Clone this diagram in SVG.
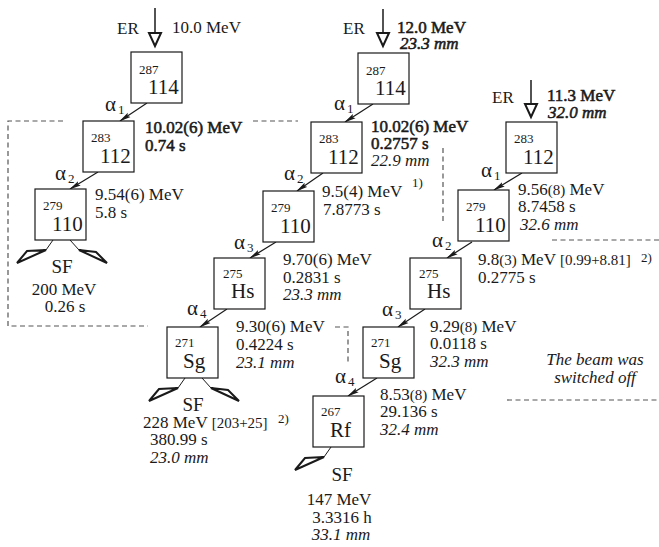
<svg xmlns="http://www.w3.org/2000/svg" width="659" height="547" viewBox="0 0 659 547" font-family="Liberation Serif, serif">
<style>
text{fill:#1a1a1a;font-size:17px}
.i{font-style:italic}
.b{stroke:#1a1a1a;stroke-width:0.55}
.m{font-size:13px}
.z{font-size:21px}
.a{font-size:21px}
.s{font-size:13px}
.sm{font-size:15px}
.sf{font-size:19px}
.sup{font-size:13px}
.box{fill:#fff;stroke:#1a1a1a;stroke-width:1.2}
.arr{fill:none;stroke:#1a1a1a;stroke-width:1.2}
.er{fill:none;stroke:#1a1a1a;stroke-width:1.5}
.tri{fill:#fff;stroke:#1a1a1a;stroke-width:2;stroke-linejoin:miter}
.frag{fill:#fff;stroke:#1a1a1a;stroke-width:2;stroke-linejoin:miter}
.fl{fill:none;stroke:#1a1a1a;stroke-width:1}
.dash{fill:none;stroke:#555;stroke-width:1.2;stroke-dasharray:5 3.5}
</style>
<defs>
<marker id="ah" viewBox="0 0 12 6" refX="11" refY="3" markerWidth="12" markerHeight="6" markerUnits="userSpaceOnUse" orient="auto">
<path d="M0,0.5 L12,3 L0,5.5 L2,3 z" fill="#1a1a1a"/>
</marker>
</defs>

<g id="connectors">
<line class="er" x1="155" y1="8" x2="155" y2="33"/>
<polygon class="tri" points="149,33 161,33 155,46"/>
<line class="er" x1="383" y1="9" x2="383" y2="33"/>
<polygon class="tri" points="377,33 389,33 383,46"/>
<line class="er" x1="531" y1="80" x2="531" y2="104"/>
<polygon class="tri" points="525,104 537,104 531,117"/>
<line class="arr" marker-end="url(#ah)" x1="147" y1="103" x2="120" y2="121"/>
<line class="arr" marker-end="url(#ah)" x1="98" y1="172" x2="70" y2="189"/>
<line class="arr" marker-end="url(#ah)" x1="373" y1="104" x2="345" y2="122"/>
<line class="arr" marker-end="url(#ah)" x1="323" y1="173" x2="297" y2="191"/>
<line class="arr" marker-end="url(#ah)" x1="276" y1="242" x2="250" y2="258"/>
<line class="arr" marker-end="url(#ah)" x1="227" y1="309" x2="200" y2="327"/>
<line class="arr" marker-end="url(#ah)" x1="522" y1="173" x2="494" y2="190"/>
<line class="arr" marker-end="url(#ah)" x1="472" y1="242" x2="447" y2="258"/>
<line class="arr" marker-end="url(#ah)" x1="425" y1="309" x2="398" y2="327"/>
<line class="arr" marker-end="url(#ah)" x1="377" y1="378" x2="348" y2="396"/>
<line class="fl" x1="53" y1="240" x2="46" y2="250"/>
<polygon class="frag" points="46,250 27,251 17,263"/>
<line class="fl" x1="70" y1="240" x2="79" y2="250"/>
<polygon class="frag" points="79,250 96,252 107,263"/>
<line class="fl" x1="185" y1="378" x2="178" y2="388"/>
<polygon class="frag" points="178,388 159,389 149,401"/>
<line class="fl" x1="202" y1="378" x2="211" y2="388"/>
<polygon class="frag" points="211,388 228,390 239,401"/>
<line class="fl" x1="331" y1="447" x2="324" y2="457"/>
<polygon class="frag" points="324,457 305,458 295,470"/>
<polyline class="dash" points="63,121 8,121 8,326 148,326"/>
<line class="dash" x1="253" y1="121" x2="298" y2="121"/>
<polyline class="dash" points="335,327 348,327 348,362"/>
<line class="dash" x1="443" y1="148" x2="443" y2="223"/>
<line class="dash" x1="552" y1="240" x2="659" y2="240"/>
<line class="dash" x1="507" y1="400" x2="659" y2="400"/>
</g>

<g id="c1-er">
<text x="117" y="34">ER</text>
<text x="172" y="33">10.0 MeV</text>
</g>
<g id="c1-114">
<rect class="box" x="131" y="52" width="51" height="51"/>
<text class="m" x="139" y="74">287</text>
<text class="z" x="148" y="94">114</text>
</g>
<g id="c1-a1"><text class="a" x="105" y="111">α</text><text class="s" x="118" y="114">1</text></g>
<g id="c1-112">
<rect class="box" x="83" y="121" width="51" height="51"/>
<text class="m" x="91" y="142">283</text>
<text class="z" x="100" y="163">112</text>
<text class="b" x="145" y="133">10.02(6) MeV</text>
<text class="b" x="145" y="151">0.74 s</text>
</g>
<g id="c1-a2"><text class="a" x="55" y="180">α</text><text class="s" x="68" y="183">2</text></g>
<g id="c1-110">
<rect class="box" x="35" y="189" width="51" height="51"/>
<text class="m" x="43" y="210">279</text>
<text class="z" x="52" y="231">110</text>
<text x="95" y="200">9.54(6) MeV</text>
<text x="95" y="218">5.8 s</text>
</g>
<g id="c1-sf">
<text class="sf" x="62" y="273" text-anchor="middle">SF</text>
<text x="64" y="295" text-anchor="middle">200 MeV</text>
<text x="65" y="312" text-anchor="middle">0.26 s</text>
</g>

<g id="c2-er">
<text x="343" y="34">ER</text>
<text class="b" x="397" y="33">12.0 MeV</text>
<text class="i b" x="400" y="49">23.3 mm</text>
</g>
<g id="c2-114">
<rect class="box" x="358" y="53" width="51" height="51"/>
<text class="m" x="366" y="75">287</text>
<text class="z" x="375" y="95">114</text>
</g>
<g id="c2-a1"><text class="a" x="334" y="110">α</text><text class="s" x="347" y="113">1</text></g>
<g id="c2-112">
<rect class="box" x="311" y="122" width="51" height="51"/>
<text class="m" x="319" y="143">283</text>
<text class="z" x="328" y="164">112</text>
<text class="b" x="371" y="132">10.02(6) MeV</text>
<text class="b" x="371" y="149">0.2757 s</text>
<text class="i" x="371" y="166">22.9 mm</text>
</g>
<g id="c2-a2"><text class="a" x="284" y="180">α</text><text class="s" x="297" y="183">2</text></g>
<g id="c2-110">
<rect class="box" x="263" y="191" width="51" height="51"/>
<text class="m" x="271" y="212">279</text>
<text class="z" x="280" y="233">110</text>
<text x="322" y="197">9.5(4) MeV</text>
<text class="sup" x="412" y="187">1)</text>
<text x="323" y="215">7.8773 s</text>
</g>
<g id="c2-a3"><text class="a" x="234" y="249">α</text><text class="s" x="247" y="252">3</text></g>
<g id="c2-hs">
<rect class="box" x="214" y="258" width="51" height="51"/>
<text class="m" x="223" y="278">275</text>
<text class="z" x="231" y="298">Hs</text>
<text x="283" y="265">9.70(6) MeV</text>
<text x="283" y="283">0.2831 s</text>
<text class="i" x="283" y="300">23.3 mm</text>
</g>
<g id="c2-a4"><text class="a" x="187" y="315">α</text><text class="s" x="200" y="318">4</text></g>
<g id="c2-sg">
<rect class="box" x="167" y="327" width="51" height="51"/>
<text class="m" x="175" y="347">271</text>
<text class="z" x="183" y="368">Sg</text>
<text x="236" y="332">9.30(6) MeV</text>
<text x="236" y="350">0.4224 s</text>
<text class="i" x="236" y="368">23.1 mm</text>
</g>
<g id="c2-sf">
<text class="sf" x="193" y="411" text-anchor="middle">SF</text>
<text x="143" y="428">228 MeV <tspan class="sm">[203+25]</tspan></text>
<text class="sup" x="278" y="423">2)</text>
<text x="150" y="445">380.99 s</text>
<text class="i" x="150" y="463">23.0 mm</text>
</g>

<g id="c3-er">
<text x="492" y="103">ER</text>
<text class="b" x="547" y="101">11.3 MeV</text>
<text class="i b" x="548" y="118">32.0 mm</text>
</g>
<g id="c3-112">
<rect class="box" x="506" y="122" width="51" height="51"/>
<text class="m" x="514" y="143">283</text>
<text class="z" x="523" y="164">112</text>
</g>
<g id="c3-a1"><text class="a" x="481" y="177">α</text><text class="s" x="494" y="180">1</text></g>
<g id="c3-110">
<rect class="box" x="458" y="190" width="51" height="51"/>
<text class="m" x="466" y="211">279</text>
<text class="z" x="475" y="232">110</text>
<text x="518" y="195">9.56<tspan class="sm">(8)</tspan> MeV</text>
<text x="518" y="212">8.7458 s</text>
<text class="i" x="520" y="230">32.6 mm</text>
</g>
<g id="c3-a2"><text class="a" x="432" y="247">α</text><text class="s" x="445" y="250">2</text></g>
<g id="c3-hs">
<rect class="box" x="410" y="258" width="51" height="51"/>
<text class="m" x="419" y="278">275</text>
<text class="z" x="427" y="298">Hs</text>
<text x="478" y="265">9.8<tspan class="sm">(3)</tspan> MeV <tspan class="sm">[0.99+8.81]</tspan></text>
<text class="sup" x="641" y="262">2)</text>
<text x="478" y="283">0.2775 s</text>
</g>
<g id="c3-a3"><text class="a" x="382" y="316">α</text><text class="s" x="395" y="319">3</text></g>
<g id="c3-sg">
<rect class="box" x="363" y="327" width="51" height="51"/>
<text class="m" x="371" y="347">271</text>
<text class="z" x="379" y="368">Sg</text>
<text x="430" y="332">9.29<tspan class="sm">(8)</tspan> MeV</text>
<text x="430" y="349">0.0118 s</text>
<text class="i" x="430" y="367">32.3 mm</text>
</g>
<g id="c3-a4"><text class="a" x="335" y="383">α</text><text class="s" x="348" y="386">4</text></g>
<g id="c3-rf">
<rect class="box" x="313" y="396" width="51" height="51"/>
<text class="m" x="321" y="416">267</text>
<text class="z" x="330" y="437">Rf</text>
<text x="380" y="400">8.53<tspan class="sm">(8)</tspan> MeV</text>
<text x="380" y="417">29.136 s</text>
<text class="i" x="380" y="435">32.4 mm</text>
</g>
<g id="c3-sf">
<text class="sf" x="342" y="481" text-anchor="middle">SF</text>
<text x="339" y="505" text-anchor="middle">147 MeV</text>
<text x="342" y="523" text-anchor="middle">3.3316 h</text>
<text class="i" x="341" y="540" text-anchor="middle">33.1 mm</text>
</g>
<g id="note">
<text class="i" x="595" y="365" text-anchor="middle">The beam was</text>
<text class="i" x="595" y="383" text-anchor="middle">switched off</text>
</g>
</svg>
